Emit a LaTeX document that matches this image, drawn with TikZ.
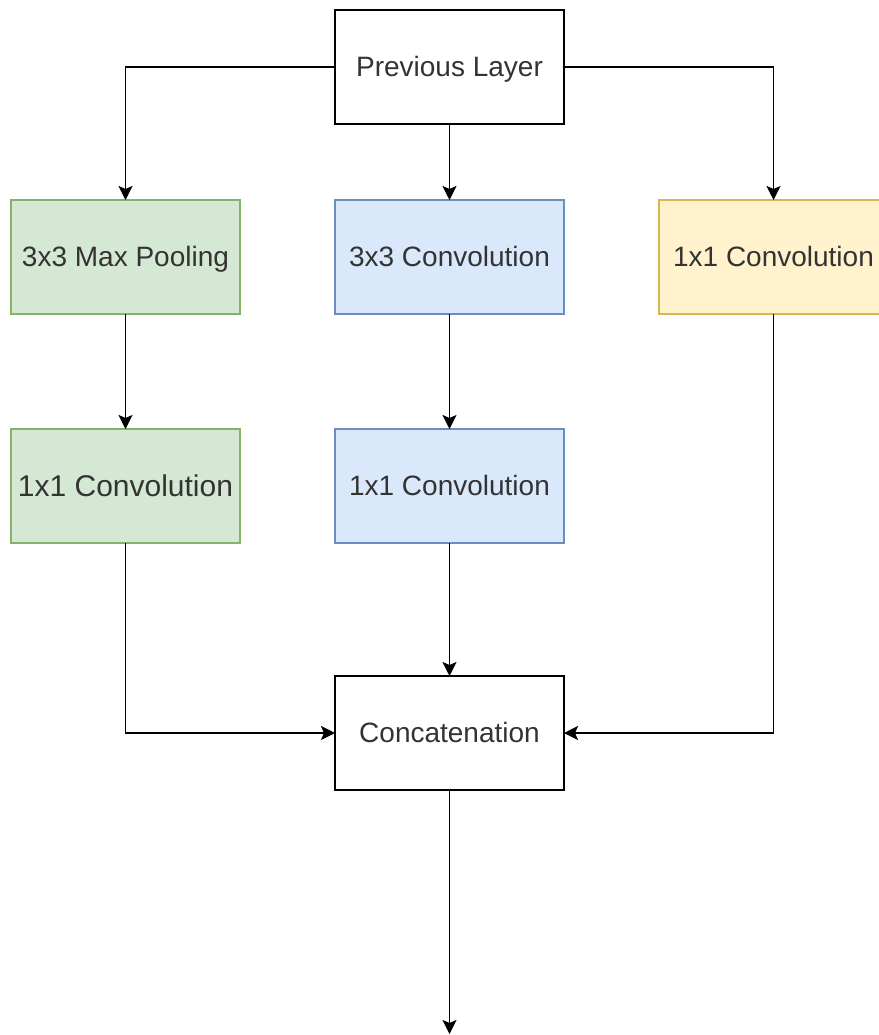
\documentclass[tikz,border=0pt]{standalone}
\usepackage{fontspec}
\setmainfont{Liberation Sans}
\usetikzlibrary{arrows.meta, positioning}
\definecolor{greenfill}{HTML}{D5E8D4}
\definecolor{greenline}{HTML}{82B366}
\definecolor{bluefill}{HTML}{DAE8FC}
\definecolor{blueline}{HTML}{6C8EBF}
\definecolor{yellowfill}{HTML}{FFF2CC}
\definecolor{yellowline}{HTML}{D6B656}
\definecolor{txt}{HTML}{333333}

\begin{document}
\begin{tikzpicture}[x=1pt, y=-1pt,
    block/.style={rectangle, draw, line width=1.8pt, outer sep=0pt, align=center, minimum width=229pt, minimum height=114pt, text height=25.3pt, text depth=5.9pt, text=txt, font=\fontsize{28}{34}\selectfont},
    greenblock/.style={block, fill=greenfill, draw=greenline},
    blueblock/.style={block, fill=bluefill, draw=blueline},
    yellowblock/.style={block, fill=yellowfill, draw=yellowline},
    arr/.style={-{Stealth[length=14pt, width=14pt, inset=3pt]}, line width=1.8pt}]
      \useasboundingbox (0,0) rectangle (878,1035);
      % Nodes (fixed size boxes)
      \node[block] (prev) at (449.5,67) {Previous Layer};
      \node[blueblock, below=76pt of prev] (conv3) {3x3 Convolution};
      \node[greenblock, left=95pt of conv3] (pool) {3x3 Max Pooling};
      \node[yellowblock, right=95pt of conv3] (conv1r) {1x1 Convolution};
      \node[greenblock, below=115pt of pool, font=\fontsize{30}{36}\selectfont, text height=27.2pt, text depth=6.4pt] (poolconv) {1x1 Convolution};
      \node[blueblock, below=115pt of conv3] (convconv) {1x1 Convolution};
      \node[block, below=133pt of convconv] (concat) {Concatenation};
      \coordinate (out) at (449.5,1034);

      % Arrows
      \draw[arr] (prev.west) -| (pool);
      \draw[arr] (prev) -- (conv3);
      \draw[arr] (prev.east) -| (conv1r);
      \draw[arr] (pool) -- (poolconv);
      \draw[arr] (conv3) -- (convconv);
      \draw[arr] (poolconv) |- (concat.west);
      \draw[arr] (convconv) -- (concat);
      \draw[arr] (conv1r) |- (concat.east);
      \draw[arr] (concat) -- (out);
    \end{tikzpicture}
\end{document}
